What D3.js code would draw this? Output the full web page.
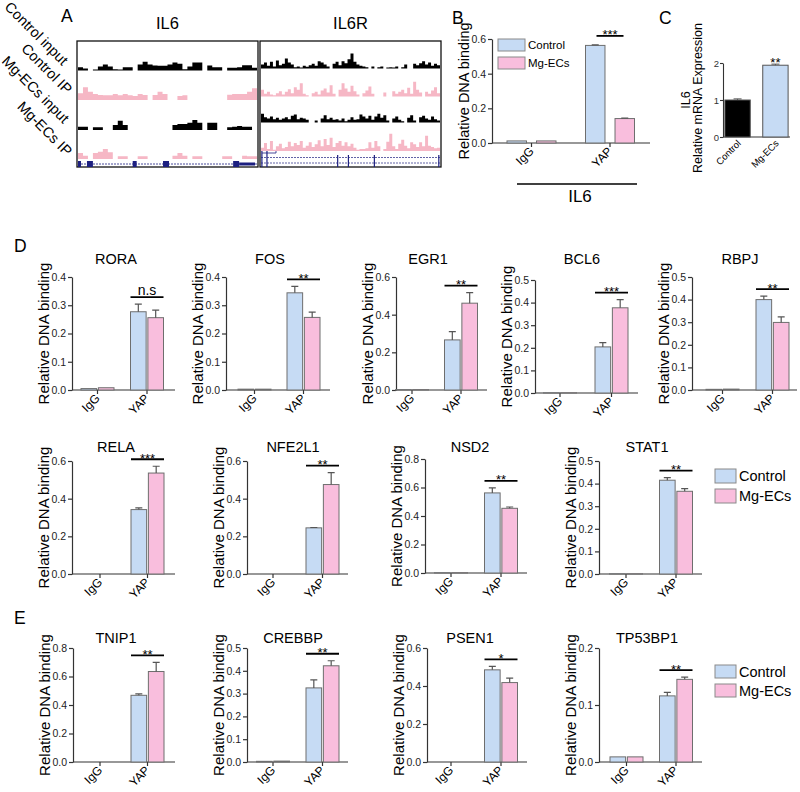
<!DOCTYPE html>
<html>
<head>
<meta charset="utf-8">
<script src="https://cdn.jsdelivr.net/npm/d3@7"></script>
<style>
  body { margin: 0; background: #fff; }
  text { font-family: Arial, "Liberation Sans", sans-serif; }
</style>
</head>
<body>
<svg id="fig" width="800" height="792"></svg>
<script>
// ---------- data ----------
const groups = ["Control", "Mg-ECs"];
const chipTargets = ["IgG", "YAP"];

// panel A: binned ChIP-seq signal (arbitrary units)
const trackNames = ["Control input", "Control IP", "Mg-ECs input", "Mg-ECs IP"];
const il6Tracks = [
  [10,6,0,3,12,18,12,4,3,10,10,0,18,26,18,15,14,14,18,24,20,4,12,24,24,0,15,10,10,0,8,8,10,16,16,8],
  [20,38,25,18,15,14,14,18,14,18,14,12,18,15,0,15,25,18,0,0,12,14,0,0,0,0,0,0,0,0,16,18,18,18,25,35],
  [10,10,0,8,8,0,0,15,28,15,0,0,0,0,0,0,0,0,0,15,18,18,22,30,22,0,22,22,0,0,8,10,12,10,10,0],
  [18,10,0,18,22,30,20,0,8,8,0,0,8,8,0,0,0,0,0,10,18,10,0,8,8,0,0,0,0,8,8,0,0,10,8,8]
];
const il6rTracks = [
  [12,18,8,20,6,24,10,14,30,18,12,4,6,3,8,5,10,14,8,22,18,12,6,0,14,20,10,22,16,28,45,20,12,8,6,4,0,6,0,4,6,0,3,4,3,6,0,4,12,0,0,14,10,16,22,12,18,8,14,10],
  [20,8,14,6,4,10,16,6,14,22,10,28,20,40,8,4,0,10,14,6,18,24,12,34,8,0,20,40,24,14,32,16,6,0,10,18,30,8,0,0,0,12,0,0,16,8,14,20,10,26,8,44,20,12,0,14,8,18,28,10],
  [26,16,12,18,10,14,8,12,16,10,20,24,10,14,12,8,0,0,6,0,12,22,10,14,8,10,6,12,4,8,16,8,10,24,18,12,20,8,18,26,14,22,6,0,12,18,8,4,0,14,22,6,0,16,20,12,8,18,10,6],
  [10,24,6,30,4,14,22,8,12,28,14,24,18,30,10,16,26,12,20,32,14,36,18,40,12,24,30,16,26,14,22,10,4,6,6,8,26,10,30,14,0,6,28,52,14,6,22,34,16,8,26,20,12,26,14,46,16,12,8,10]
];
// gene annotation, in bin units
const il6Exons = [[0, 0.6], [1.8, 3], [11, 11.8], [17.1, 18.3], [31.2, 32.4]];
const il6Utr = [[32.4, 35.6]];
const il6rExonMarks = [0.3, 2, 25.7, 29.3, 38, 59.6];

// panel B: IL6 promoter
const bCtrl = [0.012, 0.563];
const bMg = [0.012, 0.141];
const bCtrlErr = [null, 0.003];
const bMgErr = [null, 0.002];

// panel C: IL6 mRNA
const cValues = [1.0, 1.94];
const cErr = [0.03, 0.03];

// panels D / E
const genes = ["RORA", "FOS", "EGR1", "BCL6", "RBPJ", "RELA", "NFE2L1", "NSD2", "STAT1", "TNIP1", "CREBBP", "PSEN1", "TP53BP1"];
const ctrlIgG = [0.005, 0.003, 0.002, 0.001, 0.003, 0, 0, 0.002, 0.001, 0, 0.003, 0, 0.009];
const mgIgG = [0.008, 0.003, 0.002, 0.001, 0.004, 0, 0, 0.002, 0.001, 0, 0.004, 0, 0.009];
const ctrlYAP = [0.277, 0.344, 0.266, 0.204, 0.400, 0.342, 0.245, 0.562, 0.415, 0.468, 0.325, 0.485, 0.116];
const mgYAP = [0.256, 0.257, 0.461, 0.377, 0.299, 0.536, 0.475, 0.454, 0.366, 0.635, 0.422, 0.418, 0.145];
const ctrlYAPErr = [0.027, 0.023, 0.044, 0.019, 0.015, 0.009, 0.002, 0.035, 0.011, 0.010, 0.035, 0.018, 0.006];
const mgYAPErr = [0.027, 0.019, 0.056, 0.036, 0.025, 0.036, 0.063, 0.009, 0.012, 0.064, 0.022, 0.023, 0.004];
const yMax = [0.4, 0.4, 0.6, 0.5, 0.5, 0.6, 0.6, 0.8, 0.5, 0.8, 0.5, 0.6, 0.2];
const yStep = [0.1, 0.1, 0.2, 0.1, 0.1, 0.2, 0.2, 0.2, 0.1, 0.2, 0.1, 0.2, 0.1];
const sigLabels = ["n.s", "**", "**", "***", "**", "***", "**", "**", "**", "**", "**", "*", "**"];

// ---------- layout ----------
const CTRL_FILL = "#c6dbf4", MG_FILL = "#f9bedd", BAR_STROKE = "#6e6e6e", AXIS = "#333";
const TRACK_PINK = "#f6b7c5", NAVY = "#1c1f80";
const fill = { "Control": CTRL_FILL, "Mg-ECs": MG_FILL };

// one entry per gene panel: axis x, x-axis end, top, bottom, group centres, title pos
const panelPos = [
  { ax: 72,  xe: 175, top: 277, bottom: 390, c0: 97.5, c1: 147,   tx: 116, ty: 264 },
  { ax: 226, xe: 330, top: 277, bottom: 390, c0: 254.5, c1: 303.5, tx: 270, ty: 264 },
  { ax: 396, xe: 487, top: 277, bottom: 390, c0: 412, c1: 461,   tx: 428, ty: 264 },
  { ax: 535, xe: 638, top: 280, bottom: 393, c0: 560, c1: 611.5, tx: 582, ty: 264 },
  { ax: 692, xe: 797, top: 277, bottom: 390, c0: 722.5, c1: 772.5, tx: 740, ty: 264 },
  { ax: 72,  xe: 175, top: 461, bottom: 574, c0: 100, c1: 147.5, tx: 116, ty: 452 },
  { ax: 247, xe: 348, top: 461, bottom: 574, c0: 273, c1: 322.5, tx: 293, ty: 452 },
  { ax: 425, xe: 527, top: 459, bottom: 573, c0: 451, c1: 501,   tx: 470, ty: 452 },
  { ax: 599, xe: 702, top: 461, bottom: 574, c0: 626, c1: 676,   tx: 647, ty: 452 },
  { ax: 73,  xe: 175, top: 648, bottom: 762, c0: 100, c1: 147.5, tx: 116, ty: 643 },
  { ax: 247, xe: 348, top: 648, bottom: 762, c0: 273, c1: 322.5, tx: 293, ty: 643 },
  { ax: 427, xe: 527, top: 648, bottom: 762, c0: 451, c1: 501,   tx: 470, ty: 643 },
  { ax: 599, xe: 702, top: 648, bottom: 762, c0: 626.5, c1: 676, tx: 647, ty: 643 }
];

const svg = d3.select("#fig");

function addText(x, y, str, size, opts) {
  opts = opts || {};
  return svg.append("text")
    .attr("x", x).attr("y", y)
    .attr("font-size", size)
    .attr("text-anchor", opts.anchor || "start")
    .attr("fill", opts.fill || "#000")
    .attr("transform", opts.rotate ? "rotate(" + opts.rotate + "," + x + "," + y + ")" : null)
    .text(str);
}

/**
 * Grouped bar chart with IgG / YAP categories and two series
 */
function drawBarPanel(p) {
  const g = svg.append("g");
  const y = d3.scaleLinear().domain([0, p.max]).range([p.bottom, p.top]);
  const x = d3.scalePoint().domain(chipTargets).range([p.c0, p.c1]);
  const inner = d3.scaleBand().domain(groups).range([-p.half, p.half]).paddingInner(p.pad);

  const yAxis = d3.axisLeft(y)
    .tickValues(d3.range(0, p.max + p.step / 2, p.step))
    .tickFormat(d3.format(".1f"))
    .tickSize(4).tickSizeOuter(0).tickPadding(2);
  const ya = g.append("g").attr("transform", "translate(" + p.ax + ",0)").call(yAxis);
  ya.selectAll("path,line").attr("stroke", AXIS).attr("stroke-width", 1.2);
  ya.selectAll("text").attr("font-size", p.tickFont).attr("fill", "#222");

  // x axis
  g.append("line")
    .attr("x1", p.ax).attr("x2", p.xe).attr("y1", p.bottom).attr("y2", p.bottom)
    .attr("stroke", AXIS).attr("stroke-width", 1.2);
  g.selectAll(".xt").data(chipTargets).enter().append("line")
    .attr("x1", d => x(d)).attr("x2", d => x(d))
    .attr("y1", p.bottom).attr("y2", p.bottom + 4)
    .attr("stroke", AXIS).attr("stroke-width", 1.2);

  const bars = [];
  chipTargets.forEach((t, i) => groups.forEach(s => {
    bars.push({ t: t, s: s, v: p.values[s][i], e: p.errors[s][i] });
  }));

  g.selectAll(".bar").data(bars).enter().append("rect")
    .attr("x", d => x(d.t) + inner(d.s))
    .attr("width", inner.bandwidth())
    .attr("y", d => y(d.v))
    .attr("height", d => p.bottom - y(d.v))
    .attr("fill", d => fill[d.s])
    .attr("stroke", BAR_STROKE).attr("stroke-width", 1);

  const withErr = bars.filter(d => d.e !== null);
  g.selectAll(".err").data(withErr).enter().append("path")
    .attr("d", d => {
      const cx = x(d.t) + inner(d.s) + inner.bandwidth() / 2;
      const y0 = y(d.v), y1 = y(d.v + d.e);
      return "M" + cx + "," + y0 + "V" + y1 + "M" + (cx - 3.5) + "," + y1 + "H" + (cx + 3.5);
    })
    .attr("fill", "none").attr("stroke", "#555").attr("stroke-width", 1.2);

  // category labels
  chipTargets.forEach(t => {
    addText(x(t) + 3, p.bottom + 9, t, p.catFont, { anchor: "end", rotate: -45 });
  });

  // y label
  addText(p.ax - p.labelOff, (p.top + p.bottom) / 2, "Relative DNA binding", p.labelFont,
    { anchor: "middle", rotate: -90 });

  if (p.title) addText(p.tx, p.ty, p.title, 14.5, { anchor: "middle" });

  // significance bar over YAP
  const topY = d3.min(groups, s => y(p.values[s][1] + (p.errors[s][1] || 0)));
  const ly = topY - p.sigGap;
  const cx = x("YAP");
  g.append("line")
    .attr("x1", cx - p.half + p.sigInset).attr("x2", cx + p.half - p.sigInset)
    .attr("y1", ly).attr("y2", ly)
    .attr("stroke", "#000").attr("stroke-width", 1.8);
  if (p.sig === "n.s") addText(cx, ly - 2.5, p.sig, 14, { anchor: "middle" });
  else addText(cx, ly + 3.5, p.sig, p.sigFont, { anchor: "middle" });
}

function drawLegend(x, y, w, h, gap, size) {
  groups.forEach((s, i) => {
    svg.append("rect")
      .attr("x", x).attr("y", y + i * (h + gap)).attr("width", w).attr("height", h)
      .attr("fill", fill[s]).attr("stroke", "#8a8a8a").attr("stroke-width", 1);
    addText(x + w + 3, y + i * (h + gap) + h / 2 + size * 0.36, s, size);
  });
}

// ---------- panel letters ----------
addText(61, 22, "A", 17.5);
addText(452, 24, "B", 17.5);
addText(659, 24, "C", 17.5);
addText(14, 252, "D", 17.5);
addText(14, 624, "E", 17.5);

// ---------- panel A ----------
function drawTracks(x0, x1, title, tracks, baselines) {
  const n = tracks[0].length;
  const x = d3.scaleLinear().domain([0, n]).range([x0, x1]);
  const h = d3.scaleLinear().domain([0, 30]).range([0, 10]);
  tracks.forEach((vals, k) => {
    const pts = vals.map((v, i) => [i, v]).concat([[n, vals[n - 1]]]);
    const area = d3.area()
      .x(d => x(d[0]))
      .y0(baselines[k])
      .y1(d => baselines[k] - h(d[1]))
      .curve(d3.curveStepAfter);
    svg.append("path").datum(pts)
      .attr("d", area)
      .attr("fill", k % 2 === 0 ? "#000" : TRACK_PINK);
  });
  svg.append("rect")
    .attr("x", x0 - 1).attr("y", 41).attr("width", x1 - x0 + 2).attr("height", 126)
    .attr("fill", "none").attr("stroke", "#111").attr("stroke-width", 1.3);
  addText((x0 + x1) / 2, 29, title, 16.5, { anchor: "middle" });
  return x;
}

const xIl6 = drawTracks(78, 257, "IL6", il6Tracks, [70.5, 100, 130, 159]);
svg.append("line").attr("x1", 78).attr("x2", 257).attr("y1", 164).attr("y2", 164)
  .attr("stroke", NAVY).attr("stroke-width", 0.8).attr("stroke-dasharray", "2,1");
svg.selectAll(".il6ex").data(il6Exons).enter().append("rect")
  .attr("x", d => xIl6(d[0])).attr("width", d => xIl6(d[1]) - xIl6(d[0]))
  .attr("y", 161).attr("height", 6).attr("fill", NAVY);
svg.selectAll(".il6utr").data(il6Utr).enter().append("rect")
  .attr("x", d => xIl6(d[0])).attr("width", d => xIl6(d[1]) - xIl6(d[0]))
  .attr("y", 162.5).attr("height", 3).attr("fill", NAVY);

const xIl6r = drawTracks(261, 440, "IL6R", il6rTracks, [68.5, 96.5, 122.5, 151]);
[157.5, 163].forEach(yy => {
  svg.append("line").attr("x1", 261).attr("x2", 440).attr("y1", yy).attr("y2", yy)
    .attr("stroke", NAVY).attr("stroke-width", 0.7).attr("stroke-dasharray", "2,1");
});
svg.append("path").attr("d", "M262,153H276V151")
  .attr("fill", "none").attr("stroke", NAVY).attr("stroke-width", 0.8);
svg.selectAll(".il6rm").data(il6rExonMarks).enter().append("line")
  .attr("x1", d => xIl6r(d)).attr("x2", d => xIl6r(d))
  .attr("y1", (d, i) => i < 2 ? 151 : 155).attr("y2", 167)
  .attr("stroke", NAVY).attr("stroke-width", 1.2);

const labelEnds = [[62, 66], [66, 95], [63, 124], [66, 157]];
trackNames.forEach((t, i) => {
  addText(labelEnds[i][0], labelEnds[i][1], t, 14.5, { anchor: "end", rotate: 45 });
});

// ---------- panel B ----------
drawBarPanel({
  ax: 492, xe: 650, top: 39, bottom: 143, c0: 531.5, c1: 610, max: 0.6, step: 0.2,
  half: 24.5, pad: 0.34,
  values: { "Control": bCtrl, "Mg-ECs": bMg },
  errors: { "Control": bCtrlErr, "Mg-ECs": bMgErr },
  tickFont: 10.5, catFont: 12, labelFont: 14.5, labelOff: 23,
  sig: "***", sigFont: 13, sigGap: 9, sigInset: 11
});
drawLegend(498, 39, 27, 12, 6, 11.5);
svg.append("line").attr("x1", 517).attr("x2", 637).attr("y1", 184).attr("y2", 184)
  .attr("stroke", "#000").attr("stroke-width", 1.5);
addText(580, 202, "IL6", 17, { anchor: "middle" });

// ---------- panel C ----------
(function () {
  const y = d3.scaleLinear().domain([0, 2]).range([137, 63]);
  const x = d3.scaleBand().domain(groups).range([723, 790]).paddingInner(0.33).paddingOuter(0.05);
  const ya = svg.append("g").attr("transform", "translate(723,0)")
    .call(d3.axisLeft(y).tickValues([0, 1, 2]).tickFormat(d3.format("d")).tickSize(3).tickSizeOuter(0).tickPadding(1));
  ya.selectAll("path,line").attr("stroke", AXIS).attr("stroke-width", 1.1);
  ya.selectAll("text").attr("font-size", 9.5).attr("fill", "#333");
  svg.append("line").attr("x1", 723).attr("x2", 790).attr("y1", 137).attr("y2", 137)
    .attr("stroke", AXIS).attr("stroke-width", 1.1);
  svg.selectAll(".cbar").data(groups).enter().append("rect")
    .attr("x", d => x(d)).attr("width", x.bandwidth())
    .attr("y", (d, i) => y(cValues[i])).attr("height", (d, i) => 137 - y(cValues[i]))
    .attr("fill", (d, i) => i === 0 ? "#000" : CTRL_FILL)
    .attr("stroke", "#555").attr("stroke-width", 1);
  svg.selectAll(".cerr").data(groups).enter().append("path")
    .attr("d", (d, i) => {
      const cx = x(d) + x.bandwidth() / 2, y0 = y(cValues[i]), y1 = y(cValues[i] + cErr[i]);
      return "M" + cx + "," + y0 + "V" + y1 + "M" + (cx - 4) + "," + y1 + "H" + (cx + 4);
    })
    .attr("fill", "none").attr("stroke", "#555").attr("stroke-width", 1);
  groups.forEach(d => addText(x(d) + x.bandwidth() / 2 + 4, 144, d, 9.5, { anchor: "end", rotate: -45 }));
  addText(x("Mg-ECs") + x.bandwidth() / 2, y(cValues[1] + cErr[1]) + 3, "**", 13, { anchor: "middle" });
  addText(690, 100, "IL6", 12.5, { anchor: "middle", rotate: -90 });
  addText(702, 98, "Relative mRNA Expression", 12.5, { anchor: "middle", rotate: -90 });
})();

// ---------- panels D and E ----------
genes.forEach((gene, i) => {
  const pos = panelPos[i];
  drawBarPanel(Object.assign({}, pos, {
    title: gene, max: yMax[i], step: yStep[i], half: 16.5, pad: 0.1,
    values: { "Control": [ctrlIgG[i], ctrlYAP[i]], "Mg-ECs": [mgIgG[i], mgYAP[i]] },
    errors: { "Control": [null, ctrlYAPErr[i]], "Mg-ECs": [null, mgYAPErr[i]] },
    tickFont: 10.5, catFont: 12, labelFont: 15, labelOff: 23,
    sig: sigLabels[i], sigFont: 13, sigGap: 7, sigInset: 0
  }));
});
drawLegend(715, 469, 21, 14, 6, 14.5);
drawLegend(715, 665, 21, 13, 6, 14.5);
</script>
</body>
</html>
